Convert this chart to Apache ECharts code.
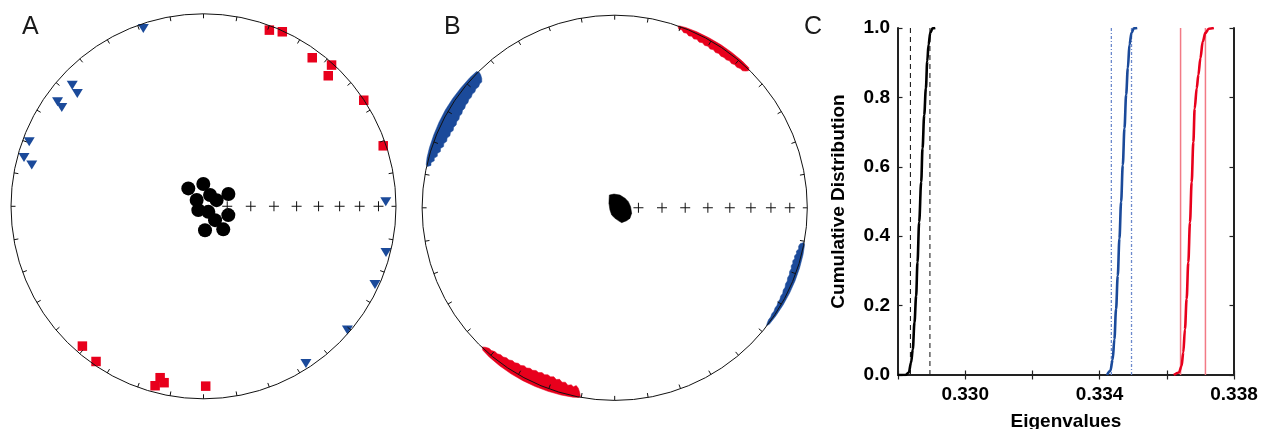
<!DOCTYPE html>
<html>
<head>
<meta charset="utf-8">
<script src="https://cdn.jsdelivr.net/npm/echarts/dist/echarts.min.js"></script>
<style>
  html, body { margin: 0; padding: 0; background: #fff; }
  #chart { width: 1263px; height: 429px; }
</style>
</head>
<body>
<div id="chart"></div>
<script>
// ---- Panel A: principal axes of individual samples, [trend, plunge] in degrees ----
const aMinorAxes = [[319.7, 80.1], [359.5, 80.6], [30.1, 84.5], [64.8, 83.9], [63.8, 78.3], [312.4, 86.1],
                    [233.8, 87.3], [138.9, 86.9], [109.5, 78.9], [140.2, 82.4], [176.4, 79.9], [139.4, 77.2]];
const aMajorAxes = [[20.5, 2.6], [24.3, 0.6], [36.2, 4.9], [42.2, 1.1], [43.7, 6.9], [56.5, 0.2], [71.4, 1.7],
                    [220.9, 4.4], [214.7, 2.2], [194.2, 9.0], [192.6, 6.8], [195.1, 3.9], [179.3, 7.3]];
const aIntAxes   = [[341.3, 2.8], [312.7, 8.0], [311.8, 13.1], [305.6, 7.5], [304.9, 11.2], [290.3, 3.9],
                    [285.2, 3.8], [283.5, 9.1], [88.6, 5.9], [104.2, 2.5], [114.5, 2.4], [130.7, 1.6], [146.9, 2.9]];

// ---- Panel B: outlines of bootstrapped eigenvector clouds, [trend, plunge] ----
const bMinorCloud = [[337.1, 84.2], [357.1, 84.2], [22.5, 84.2], [47.3, 84.1], [65.8, 83.7], [86.1, 83.3],
                     [107.9, 82.5], [124.5, 82.2], [137.1, 82.6], [154.8, 83.1], [164.4, 84.4], [178.4, 85.6],
                     [202.6, 86.7], [244.9, 87.8], [308.3, 86.9]];
const bMajorCloudNE = [[19.2, 0.2], [19.8, 1.8], [20.6, 1.4], [21.5, 2.6], [22.4, 2.2], [23.3, 3.2], [24.2, 2.7],
                       [25.1, 3.6], [26, 3.0], [27, 3.9], [28, 3.3], [29, 4.1], [30, 3.5], [31, 4.3], [32, 3.7],
                       [33, 4.4], [34, 3.8], [35, 4.4], [36, 3.9], [37, 4.3], [38, 3.6], [39, 4.1], [40, 3.4],
                       [41, 3.8], [42, 3.0], [43, 3.1], [43.8, 1.9], [44.3, 0.6],
                       [43.8, -0.8], [41, -1.1], [37, -1.2], [33, -1.2], [29, -1.1], [25, -1.0], [21.5, -0.7],
                       [19.6, -0.3]];
const bMajorCloudSW = [[190.3, 0.5], [190.8, 3.0], [191.4, 5.0], [192.2, 6.2], [193, 5.2], [193.8, 6.0],
                       [194.8, 5.3], [195.8, 6.6], [196.8, 6.0], [197.8, 7.2], [198.8, 6.5], [199.8, 7.5],
                       [200.8, 6.8], [201.8, 7.4], [202.8, 6.7], [203.8, 7.2], [204.8, 6.4], [205.8, 6.9],
                       [206.8, 6.1], [207.8, 6.5], [208.8, 5.7], [209.8, 6.1], [210.8, 5.3], [211.8, 5.6],
                       [212.8, 4.8], [213.8, 5.1], [214.8, 4.3], [215.8, 4.5], [216.8, 3.7], [217.8, 3.9],
                       [218.8, 3.1], [219.8, 3.2], [220.8, 2.4], [221.8, 2.4], [222.8, 1.5], [223.6, 0.3],
                       [222.8, -0.9], [220, -1.4], [216, -1.7], [212, -1.9], [208, -1.9], [204, -1.8],
                       [200, -1.6], [196, -1.3], [192.5, -0.8], [190.8, -0.3]];
const bIntCloudNW = [[282.4, 0.4], [283, 2.4], [283.8, 2.0], [284.6, 3.6], [285.4, 3.2], [286.2, 4.6], [287, 4.2],
                     [287.9, 5.5], [288.8, 5.0], [289.7, 6.3], [290.6, 5.8], [291.6, 6.9], [292.6, 6.4],
                     [293.6, 7.4], [294.6, 6.9], [295.6, 7.8], [296.6, 7.2], [297.6, 7.9], [298.6, 7.3],
                     [299.6, 7.8], [300.6, 7.1], [301.6, 7.6], [302.6, 6.9], [303.6, 7.3], [304.6, 6.6],
                     [305.6, 7.0], [306.6, 6.3], [307.6, 6.7], [308.6, 6.0], [309.6, 6.4], [310.6, 5.7],
                     [311.6, 6.1], [312.6, 5.4], [313.4, 5.6], [314.2, 4.2], [314.8, 2.2], [315, 0.6],
                     [314.6, -0.9], [312, -1.3], [308, -1.5], [304, -1.7], [300, -1.8], [296, -1.7],
                     [292, -1.5], [288, -1.3], [285, -1.0], [283, -0.5]];
const bIntCloudSE = [[100.4, 0.3], [101, 2.2], [101.8, 2.8], [102.6, 2.4], [103.4, 3.4], [104.2, 3.0],
                     [105, 3.8], [105.8, 3.3], [106.6, 4.0], [107.4, 3.5], [108.2, 4.0], [109, 3.4],
                     [110, 3.8], [111, 3.2], [112, 3.6], [113, 3.0], [114, 3.3], [115, 2.7], [116, 3.0],
                     [117, 2.4], [118, 2.7], [119, 2.2], [120, 2.4], [121, 1.9], [122, 2.1], [123, 1.6],
                     [124, 1.8], [125, 1.3], [126, 1.4], [127, 0.9], [127.8, 0.3],
                     [127, -0.6], [124, -0.9], [120, -1.1], [116, -1.2], [112, -1.2], [108, -1.1],
                     [104, -0.9], [101, -0.5]];

// Plunge reference marks along the east radius
const plungeMarks = [10, 20, 30, 40, 50, 60, 70, 80];

// ---- Panel C: cumulative distributions of the eigenvalues ----
const minorEigX = [0.32800, 0.32822, 0.32832, 0.32839, 0.32844, 0.32849, 0.32854, 0.32858, 0.32863,
                   0.32869, 0.32873, 0.32878, 0.32883, 0.32887, 0.32891, 0.32896, 0.32903, 0.32911];
const minorEigY = [0, 0, 0.007, 0.036, 0.074, 0.151, 0.228, 0.325, 0.441,
                   0.556, 0.653, 0.749, 0.826, 0.904, 0.952, 0.986, 0.999, 1.0];
const intEigX = [0.33422, 0.33432, 0.33439, 0.33444, 0.33449, 0.33454, 0.33459, 0.33464,
                 0.33469, 0.33474, 0.33479, 0.33484, 0.33489, 0.33495, 0.33502, 0.33512];
const intEigY = [0, 0.012, 0.045, 0.103, 0.190, 0.286, 0.393, 0.499,
                 0.605, 0.711, 0.808, 0.884, 0.952, 0.986, 0.999, 1.0];
const majorEigX = [0.33621, 0.33636, 0.33644, 0.33649, 0.33654, 0.33659, 0.33664, 0.33669, 0.33674,
                   0.33679, 0.33683, 0.33689, 0.33694, 0.33700, 0.33707, 0.33715, 0.33725, 0.33740];
const majorEigY = [0, 0.007, 0.026, 0.065, 0.132, 0.219, 0.325, 0.440, 0.556,
                   0.671, 0.768, 0.826, 0.865, 0.913, 0.961, 0.986, 0.998, 1.0];
// Confidence bounds (vertical lines)
const minorBounds = [0.32837, 0.32895];
const intBounds = [0.33435, 0.33495];
const majorBounds = [0.33641, 0.33715];

// ---- Styling ----
const RED = '#e8001c';
const BLUE = '#1b4a9a';
const FONT = 'Liberation Sans, Arial, Helvetica, sans-serif';

// Lambert equal-area (Schmidt) lower-hemisphere projection: plunge -> normalised radius
const eqArea = p => Math.SQRT2 * Math.sin((90 - p) / 2 * Math.PI / 180);
const toPolar = arr => arr.map(([t, p]) => [eqArea(p), t]);

const crossPath = 'path://M0,4.5H10V5.5H0Z M4.5,0H5.5V10H4.5Z';

function stereoAxes(idx) {
  return {
    angle: {
      polarIndex: idx, type: 'value', min: 0, max: 360, interval: 10,
      startAngle: 90, clockwise: true, z: 5,
      axisLine: { show: true, lineStyle: { color: '#111', width: 1 } },
      axisTick: { show: true, inside: true, length: 4.5, lineStyle: { color: '#111', width: 1 } },
      axisLabel: { show: false }, splitLine: { show: false }, splitArea: { show: false }
    },
    radius: {
      polarIndex: idx, type: 'value', min: 0, max: 1, show: false,
      axisLine: { show: false }, axisTick: { show: false }, axisLabel: { show: false }, splitLine: { show: false }
    }
  };
}
const sA = stereoAxes(0), sB = stereoAxes(1);

function crossSeries(idx) {
  return {
    type: 'scatter', coordinateSystem: 'polar', polarIndex: idx, z: 6, silent: true,
    symbol: crossPath, symbolSize: 10, itemStyle: { color: '#111', opacity: 1 },
    data: plungeMarks.map(p => [eqArea(p), 90])
  };
}

function cloudSeries(outline, color) {
  return {
    type: 'custom', coordinateSystem: 'polar', polarIndex: 1, z: 2, silent: true,
    data: [[1, 0]],
    renderItem: (params, api) => ({
      type: 'polygon',
      shape: { points: outline.map(([t, p]) => api.coord([eqArea(p), t])) },
      style: { fill: color, stroke: color, lineWidth: 0.5 }
    })
  };
}

const lineXY = (xs, ys) => xs.map((x, i) => [x, ys[i]]);
const vline = x => [[x, 0], [x, 1]];

function cdfSeries(xs, ys, color) {
  return {
    type: 'line', xAxisIndex: 0, yAxisIndex: 0, data: lineXY(xs, ys), showSymbol: false, silent: true,
    smooth: 0.35, smoothMonotone: 'x', z: 4,
    lineStyle: { color: color, width: 2.6 }
  };
}
function boundSeries(x, color, type, width) {
  return {
    type: 'line', xAxisIndex: 0, yAxisIndex: 0, data: vline(x), showSymbol: false, silent: true, z: 3,
    lineStyle: { color: color, width: width, type: type }
  };
}

const panelLabel = (text, left) => ({
  text: text, left: left, top: 15, padding: 0,
  textStyle: { fontFamily: FONT, fontSize: 25, fontWeight: 'normal', color: '#1a1a1a' }
});

const cTick = { show: true, inside: true, length: 4.5, lineStyle: { color: '#222', width: 1.2 } };
const cLine = { show: true, lineStyle: { color: '#222', width: 2 } };

const option = {
  animation: false,
  backgroundColor: '#fff',
  title: [panelLabel('A', 22), panelLabel('B', 444), panelLabel('C', 804)],
  polar: [
    { center: [203.5, 206.3], radius: 192.5 },
    { center: [614.7, 207.8], radius: 192.6 }
  ],
  angleAxis: [sA.angle, sB.angle],
  radiusAxis: [sA.radius, sB.radius],
  grid: { left: 898, right: 29, top: 28, bottom: 54, containLabel: false, outerBoundsMode: 'none' },
  xAxis: [
    {
      type: 'value', min: 0.328, max: 0.338, interval: 0.002, position: 'bottom',
      axisLine: cLine, axisTick: cTick, splitLine: { show: false },
      axisLabel: {
        margin: 10, color: '#000', fontFamily: FONT, fontSize: 19, fontWeight: 'bold', showMaxLabel: true,
        formatter: v => (Math.round(v * 1000) % 4 === 2 ? v.toFixed(3) : '')
      },
      name: 'Eigenvalues', nameLocation: 'middle', nameGap: 37,
      nameTextStyle: { color: '#000', fontFamily: FONT, fontSize: 19, fontWeight: 'bold' }
    },
    {
      type: 'value', min: 0.328, max: 0.338, interval: 0.002, position: 'top',
      axisLine: cLine, axisTick: cTick, axisLabel: { show: false }, splitLine: { show: false }
    }
  ],
  yAxis: [
    {
      type: 'value', min: 0, max: 1, interval: 0.2, position: 'left',
      axisLine: cLine, axisTick: cTick, splitLine: { show: false },
      axisLabel: {
        margin: 8, color: '#000', fontFamily: FONT, fontSize: 19, fontWeight: 'bold',
        formatter: v => v.toFixed(1)
      },
      name: 'Cumulative Distribution', nameLocation: 'middle', nameGap: 50, nameRotate: 90,
      nameTextStyle: { color: '#000', fontFamily: FONT, fontSize: 19, fontWeight: 'bold' }
    },
    {
      type: 'value', min: 0, max: 1, interval: 0.2, position: 'right',
      axisLine: cLine, axisTick: cTick, axisLabel: { show: false }, splitLine: { show: false }
    }
  ],
  series: [
    // Panel A
    {
      type: 'scatter', coordinateSystem: 'polar', polarIndex: 0, z: 3, silent: true,
      symbol: 'rect', symbolSize: 9.5, itemStyle: { color: RED, opacity: 1 }, data: toPolar(aMajorAxes)
    },
    {
      type: 'scatter', coordinateSystem: 'polar', polarIndex: 0, z: 3, silent: true,
      symbol: 'triangle', symbolRotate: 180, symbolSize: [11, 9], itemStyle: { color: BLUE, opacity: 1 },
      data: toPolar(aIntAxes)
    },
    {
      type: 'scatter', coordinateSystem: 'polar', polarIndex: 0, z: 4, silent: true,
      symbol: 'circle', symbolSize: 14, itemStyle: { color: '#000', opacity: 1 }, data: toPolar(aMinorAxes)
    },
    crossSeries(0),
    // Panel B
    cloudSeries(bMajorCloudNE, RED),
    cloudSeries(bMajorCloudSW, RED),
    cloudSeries(bIntCloudNW, BLUE),
    cloudSeries(bIntCloudSE, BLUE),
    cloudSeries(bMinorCloud, '#000'),
    crossSeries(1),
    // Panel C
    boundSeries(minorBounds[0], '#222', [5, 4], 1.1),
    boundSeries(minorBounds[1], '#222', [5, 4], 1.1),
    boundSeries(intBounds[0], '#6a88cc', [3, 2, 1, 2], 1.3),
    boundSeries(intBounds[1], '#6a88cc', [3, 2, 1, 2], 1.3),
    boundSeries(majorBounds[0], '#f27a86', 'solid', 1.5),
    boundSeries(majorBounds[1], '#f27a86', 'solid', 1.5),
    cdfSeries(minorEigX, minorEigY, '#000'),
    cdfSeries(intEigX, intEigY, BLUE),
    cdfSeries(majorEigX, majorEigY, RED)
  ]
};

const chart = echarts.init(document.getElementById('chart'), null, { renderer: 'canvas' });
chart.setOption(option);
</script>
</body>
</html>
